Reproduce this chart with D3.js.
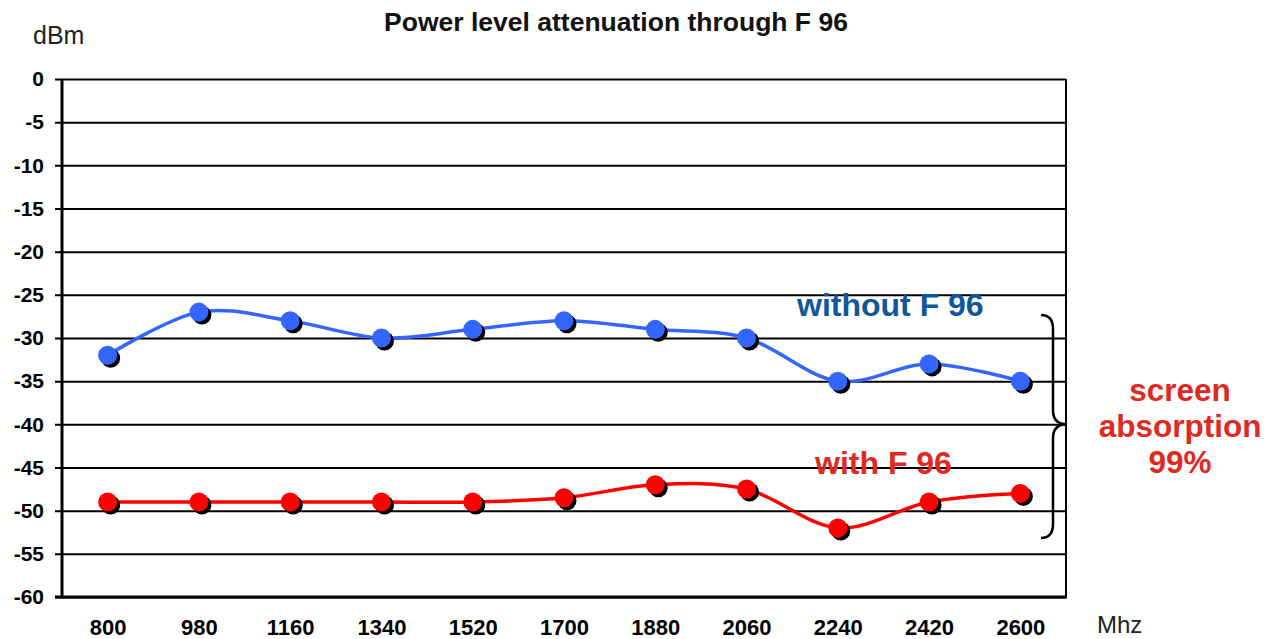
<!DOCTYPE html>
<html>
<head>
<meta charset="utf-8">
<script src="https://cdn.jsdelivr.net/npm/d3@7"></script>
<style>
  body { margin: 0; background: #fff; }
  svg { display: block; font-family: Arial, "Liberation Sans", sans-serif; }
</style>
</head>
<body>
<div id="chart"></div>
<script>
var frequencies = ["800", "980", "1160", "1340", "1520", "1700", "1880", "2060", "2240", "2420", "2600"];
var withoutF96 = [-32, -27, -28, -30, -29, -28, -29, -30, -35, -33, -35];
var withF96 = [-49, -49, -49, -49, -49, -48.5, -47, -47.5, -52, -49, -48];
var yTicks = [0, -5, -10, -15, -20, -25, -30, -35, -40, -45, -50, -55, -60];

var width = 1277, height = 639;
var margin = { left: 62, right: 211, top: 79, bottom: 42 };

var svg = d3.select("#chart").append("svg")
  .attr("width", width)
  .attr("height", height);

var x = d3.scalePoint()
  .domain(frequencies)
  .range([margin.left, width - margin.right])
  .padding(0.5);

var y = d3.scaleLinear()
  .domain([-60, 0])
  .range([height - margin.bottom, margin.top]);

// gridlines + left ticks
var yAxis = d3.axisLeft(y)
  .tickValues(yTicks)
  .tickSize(-(width - margin.right - margin.left))
  .tickSizeOuter(0)
  .tickPadding(18)
  .tickFormat(function (d) { return String(d); });

var gy = svg.append("g")
  .attr("transform", "translate(" + margin.left + ",0)")
  .call(yAxis);
gy.select(".domain").remove();
gy.selectAll(".tick line")
  .attr("x1", -7)
  .attr("stroke", "#000")
  .attr("stroke-width", 2);
gy.selectAll(".tick text")
  .attr("font-size", 21)
  .attr("font-weight", "bold")
  .attr("fill", "#000");

// frame: left axis and right border
svg.append("line")
  .attr("x1", margin.left).attr("x2", margin.left)
  .attr("y1", y(0)).attr("y2", y(-60))
  .attr("stroke", "#000").attr("stroke-width", 3);
svg.append("line")
  .attr("x1", width - margin.right).attr("x2", width - margin.right)
  .attr("y1", y(0)).attr("y2", y(-60))
  .attr("stroke", "#000").attr("stroke-width", 2);
svg.append("line")
  .attr("x1", margin.left - 7).attr("x2", width - margin.right + 1)
  .attr("y1", y(-60)).attr("y2", y(-60))
  .attr("stroke", "#000").attr("stroke-width", 3);

// x labels
var xAxis = d3.axisBottom(x).tickSize(0).tickPadding(22);
var gx = svg.append("g")
  .attr("transform", "translate(0," + y(-60) + ")")
  .call(xAxis);
gx.select(".domain").remove();
gx.selectAll(".tick text")
  .attr("font-size", 22)
  .attr("font-weight", "bold")
  .attr("fill", "#000");

// series
var line = d3.line()
  .x(function (d, i) { return x(frequencies[i]); })
  .y(function (d) { return y(d); })
  .curve(d3.curveCardinal.tension(0));

function drawSeries(values, colour) {
  svg.append("path")
    .datum(values)
    .attr("fill", "none")
    .attr("stroke", colour)
    .attr("stroke-width", 3.5)
    .attr("d", line);

  var g = svg.append("g");
  g.selectAll(".shadow")
    .data(values)
    .enter().append("circle")
    .attr("class", "shadow")
    .attr("cx", function (d, i) { return x(frequencies[i]) + 3; })
    .attr("cy", function (d) { return y(d) + 3; })
    .attr("r", 9.5)
    .attr("fill", "#000");
  g.selectAll(".dot")
    .data(values)
    .enter().append("circle")
    .attr("class", "dot")
    .attr("cx", function (d, i) { return x(frequencies[i]); })
    .attr("cy", function (d) { return y(d); })
    .attr("r", 9.5)
    .attr("fill", colour);
}

drawSeries(withoutF96, "#3366ff");
drawSeries(withF96, "#ff0000");

// titles
svg.append("text")
  .attr("x", 616).attr("y", 31)
  .attr("text-anchor", "middle")
  .attr("font-size", 26.5)
  .attr("font-weight", "bold")
  .attr("fill", "#111")
  .text("Power level attenuation through F 96");

svg.append("text")
  .attr("x", 33).attr("y", 44)
  .attr("font-size", 25)
  .attr("fill", "#222")
  .text("dBm");

svg.append("text")
  .attr("x", 1097).attr("y", 633)
  .attr("font-size", 24)
  .attr("fill", "#222")
  .text("Mhz");

// series labels
svg.append("text")
  .attr("x", 797).attr("y", 316)
  .attr("font-size", 32)
  .attr("font-weight", "bold")
  .attr("fill", "#0f569b")
  .text("without F 96");

svg.append("text")
  .attr("x", 815).attr("y", 474)
  .attr("font-size", 32)
  .attr("font-weight", "bold")
  .attr("fill", "#e0291f")
  .text("with F 96");

// brace
var bTop = 315, bMid = y(-40), bBot = 538, bx = 1053;
var bracePath = "M1041," + bTop +
  " C1049," + bTop + " " + bx + "," + (bTop + 4) + " " + bx + "," + (bTop + 14) +
  " L" + bx + "," + (bMid - 14) +
  " C" + bx + "," + (bMid - 4) + " 1058," + bMid + " 1067," + bMid +
  " C1058," + bMid + " " + bx + "," + (bMid + 4) + " " + bx + "," + (bMid + 14) +
  " L" + bx + "," + (bBot - 14) +
  " C" + bx + "," + (bBot - 4) + " 1049," + bBot + " 1041," + bBot;
svg.append("path")
  .attr("d", bracePath)
  .attr("fill", "none")
  .attr("stroke", "#000")
  .attr("stroke-width", 2.5);

var absorb = svg.append("text")
  .attr("text-anchor", "middle")
  .attr("font-size", 31.5)
  .attr("font-weight", "bold")
  .attr("fill", "#e0291f");
["screen", "absorption", "99%"].forEach(function (t, i) {
  absorb.append("tspan")
    .attr("x", 1180)
    .attr("y", 401 + i * 36)
    .text(t);
});
</script>
</body>
</html>
